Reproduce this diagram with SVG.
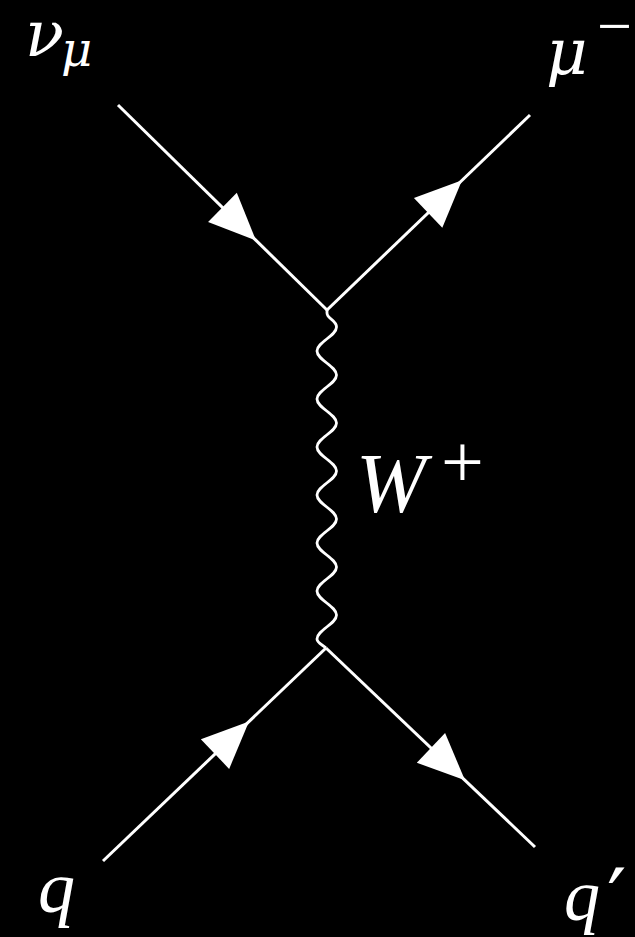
<svg xmlns="http://www.w3.org/2000/svg" xmlns:xlink="http://www.w3.org/1999/xlink" width="635" height="937" viewBox="0 0 635 937">
  <style>
    .fermion { stroke: #ffffff; stroke-width: 3; fill: none; stroke-linecap: butt; }
    .boson { stroke: #ffffff; stroke-width: 2.8; fill: none; stroke-linejoin: round; }
    .arrow { fill: #ffffff; stroke: none; }
    .greek { fill: #ffffff; font-family: "DejaVu Serif", serif; font-style: italic; }
    .latin { fill: #ffffff; font-family: "Liberation Serif", serif; font-style: italic; }
    .sym { fill: #ffffff; font-family: "Liberation Serif", serif; font-style: normal; }
    .prime { fill: #ffffff; font-family: "DejaVu Serif", serif; font-style: normal; }
  </style>
  <defs>
    <path id="arrowhead" class="arrow" d="M 0 0 L -47 -20.5 L -47 20.5 Z"/>
  </defs>
  <rect x="0" y="0" width="635" height="937" fill="#000000"/>

  <g id="connectors">
    <line class="fermion" x1="118" y1="105" x2="327" y2="310"/>
    <line class="fermion" x1="327" y1="310" x2="530" y2="115"/>
    <line class="fermion" x1="103" y1="861" x2="326" y2="648"/>
    <line class="fermion" x1="326" y1="648" x2="535" y2="847"/>
    <path class="boson" d="M 327 310 L 327 313 C 327 319 336.5 320 336.5 327 C 336.5 335.7 317 342.3 317 351 S 336.5 366.3 336.5 375 S 317 390.3 317 399 S 336.5 414.3 336.5 423 S 317 438.3 317 447 S 336.5 462.3 336.5 471 S 317 486.3 317 495 S 336.5 510.3 336.5 519 S 317 534.3 317 543 S 336.5 558.3 336.5 567 S 317 582.3 317 591 S 336.5 606.3 336.5 615 S 317 630.3 317 639 C 317 643 323 645 326 648"/>
    <use xlink:href="#arrowhead" href="#arrowhead" transform="translate(256 240.4) rotate(44.45)"/>
    <use xlink:href="#arrowhead" href="#arrowhead" transform="translate(462 180.3) rotate(-43.85)"/>
    <use xlink:href="#arrowhead" href="#arrowhead" transform="translate(249 721.6) rotate(-43.68)"/>
    <use xlink:href="#arrowhead" href="#arrowhead" transform="translate(465 780.3) rotate(43.6)"/>
  </g>

  <g id="nu_mu">
    <text class="greek" x="25" y="56" font-size="64">ν</text>
    <text class="greek" x="61" y="66" font-size="48">μ</text>
  </g>

  <g id="mu_minus">
    <text class="greek" x="546" y="74" font-size="64">μ</text>
    <text class="sym" x="597" y="47" font-size="62">−</text>
  </g>

  <g id="W_plus">
    <text class="latin" x="356" y="512" font-size="84">W</text>
    <text class="sym" x="462.5" y="487" font-size="76" text-anchor="middle">+</text>
  </g>

  <g id="q">
    <text class="latin" x="38" y="912" font-size="74">q</text>
  </g>

  <g id="q_prime">
    <text class="latin" x="564" y="920" font-size="72">q</text>
    <text class="prime" x="607" y="930" font-size="86">′</text>
  </g>
</svg>
